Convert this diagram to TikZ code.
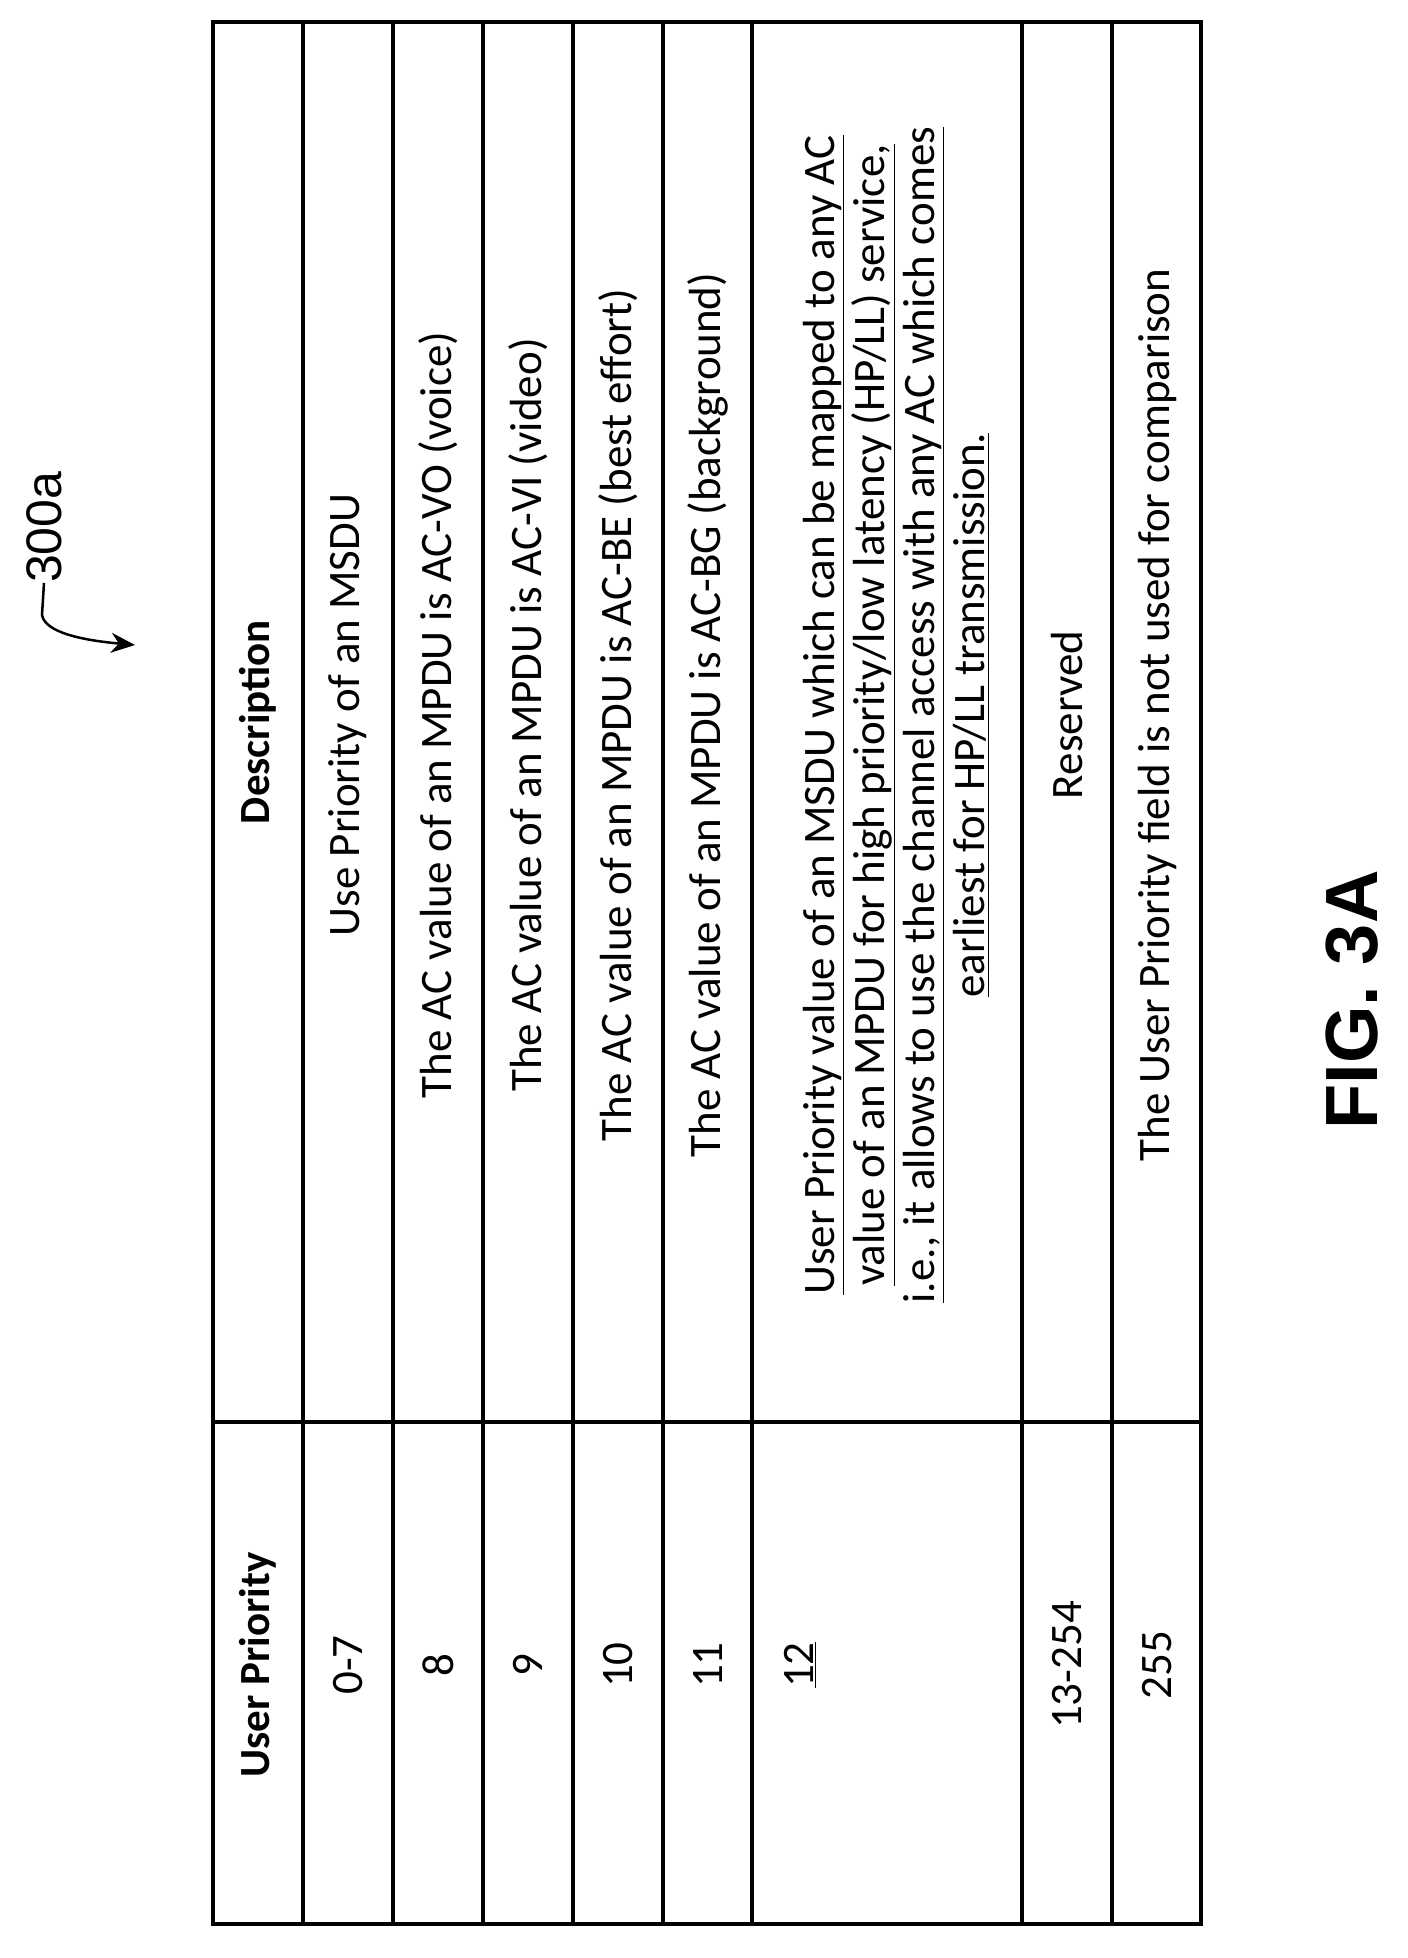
\documentclass[tikz,border=0pt]{standalone}
\usepackage{fontspec}
\setmainfont{Carlito}
\newfontfamily\arialf{Liberation Sans}
\usetikzlibrary{arrows.meta}
\newcommand{\ul}[1]{\underline{#1}}
\begin{document}
\begin{tikzpicture}[x=1pt,y=-1pt,
  cell/.style={rotate=90,font=\fontsize{45}{50}\selectfont,align=center,inner sep=0},
  grid/.style={line width=4pt}]
\useasboundingbox (0,0) rectangle (1407,1958);
\foreach \x in {213,303,393,483,573,663,752,1022,1112}
  \draw[grid] (\x,22) -- (\x,1924);
\draw[grid] (213,22) rectangle (1201,1924);
\draw[grid] (213,1422) -- (1201,1422);
\node[cell,font=\fontsize{43}{48}\selectfont\bfseries] (h1) at (258,1665) {User Priority};
\node[cell,font=\fontsize{43}{48}\selectfont\bfseries] (h2) at (258,722) {Description};
\node[cell] (a1) at (348,1665) {0-7};
\node[cell] (b1) at (348,715) {Use Priority of an MSDU};
\node[cell] (a2) at (438,1665) {8};
\node[cell] (b2) at (438,715) {The AC value of an MPDU is AC-VO (voice)};
\node[cell] (a3) at (528,1665) {9};
\node[cell] (b3) at (528,715) {The AC value of an MPDU is AC-VI (video)};
\node[cell] (a4) at (618,1665) {10};
\node[cell] (b4) at (618,715) {The AC value of an MPDU is AC-BE (best effort)};
\node[cell] (a5) at (708,1665) {11};
\node[cell] (b5) at (708,715) {The AC value of an MPDU is AC-BG (background)};
\node[cell] (a6) at (800,1665) {\ul{12}};
\node[cell] (b6) at (896,715) {\ul{User Priority value of an MSDU which can be mapped to any AC}\\
\ul{value of an MPDU for high priority/low latency (HP/LL) service,}\\
\ul{i.e., it allows to use the channel access with any AC which comes}\\
\ul{earliest for HP/LL transmission.}};
\node[cell] (a7) at (1067,1665) {13-254};
\node[cell] (b7) at (1067,715) {Reserved};
\node[cell] (a8) at (1157,1665) {255};
\node[cell] (b8) at (1157,715) {The User Priority field is not used for comparison};
\node[rotate=90,font=\arialf\bfseries\fontsize{74}{80}\selectfont] (fig) at (1352,1000) {FIG. 3A};
\node[rotate=90,font=\arialf\fontsize{50}{52}\selectfont,anchor=west,inner sep=0] (lab) at (44,583) {300a};
\coordinate (tip) at (135,645);
\draw[line width=2.5pt,-{Stealth[length=24pt,width=20pt]}] (lab.west) -- (42,615) .. controls (45,632) and (80,640) .. (tip);
\end{tikzpicture}
\end{document}
